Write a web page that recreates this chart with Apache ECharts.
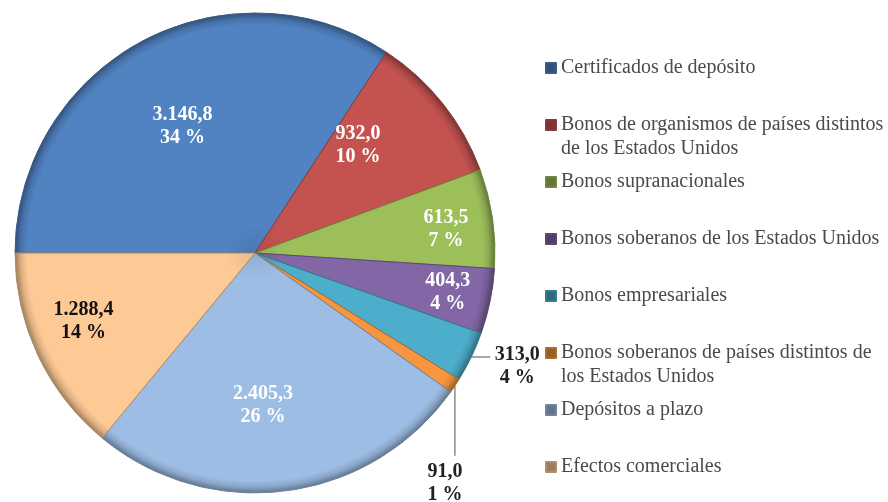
<!DOCTYPE html>
<html>
<head>
<meta charset="utf-8">
<script src="https://cdn.jsdelivr.net/npm/echarts@6/dist/echarts.min.js"></script>
<style>
html, body { margin: 0; padding: 0; background: #fff; }
#chart { width: 888px; height: 502px; }
</style>
</head>
<body>
<div id="chart"></div>
<script>
var categories = [
    'Certificados de depósito',
    'Bonos de organismos de países distintos\nde los Estados Unidos',
    'Bonos supranacionales',
    'Bonos soberanos de los Estados Unidos',
    'Bonos empresariales',
    'Bonos soberanos de países distintos de\nlos Estados Unidos',
    'Depósitos a plazo',
    'Efectos comerciales'
];
var values = [3146.8, 932.0, 613.5, 404.3, 313.0, 91.0, 2405.3, 1288.4];
var pctLabels = [34, 10, 7, 4, 4, 1, 26, 14];

var colors = ['#5182c2', '#c4524f', '#9dbf5a', '#8366a6', '#4caecb', '#f7963f', '#9dbde4', '#fdc995'];
var serif = "'Liberation Serif', 'Times New Roman', serif";

// pie geometry
var cx = 255, cy = 253, R = 240;
// push inside labels outward / rotate them a bit (Excel "best fit" look)
var labelPush = [1.24, 1.24, 1.57, 1.6, 1, 1, 1.24, 1.5];
var labelTurn = [0, 9, 0, 0, 0, 0, -4.5, -3.6];
var labelDy = [7, 5, 4, 0, 0, 0, 0, 0];

function shade(hex, f) {
    var n = parseInt(hex.slice(1), 16);
    var r = (n >> 16) & 255, g = (n >> 8) & 255, b = n & 255;
    function c(v) { return Math.max(0, Math.min(255, Math.round(f < 1 ? v * f : v + (255 - v) * (f - 1)))); }
    return 'rgb(' + c(r) + ',' + c(g) + ',' + c(b) + ')';
}

function fmtNum(v) {
    var p = v.toFixed(1).split('.');
    return p[0].replace(/\B(?=(\d{3})+(?!\d))/g, '.') + ',' + p[1];
}

var pieData = [];
for (var i = 0; i < values.length; i++) {
    var col = colors[i];
    var item = {
        name: categories[i],
        value: values[i],
        itemStyle: {
            color: {
                type: 'radial', x: cx, y: cy, r: R, global: true,
                colorStops: [
                    {offset: 0, color: shade(col, 0.92)},
                    {offset: 0.12, color: col},
                    {offset: 0.95, color: col},
                    {offset: 0.975, color: shade(col, 0.88)},
                    {offset: 1, color: shade(col, 0.62)}
                ]
            },
            borderColor: shade(col, 0.7),
            borderWidth: 1
        }
    };
    if (i == 7) {
        item.label = {color: '#111'};
    }
    if (i == 4 || i == 5) {
        item.label = {position: 'outside', color: '#222'};
        item.labelLine = {show: true, length: 10, length2: 10, lineStyle: {color: '#8c8c8c', width: 1.5}};
    }
    pieData.push(item);
}

var legends = [];
var slot = 57;
for (var j = 0; j < categories.length; j++) {
    var twoLines = categories[j].indexOf('\n') >= 0;
    var mid = 68 + slot * j;
    legends.push({
        data: [categories[j]],
        orient: 'vertical',
        left: 545,
        top: twoLines ? mid - 36 : mid - 12,
        padding: 0,
        itemWidth: 10,
        itemHeight: 10,
        icon: 'rect',
        selectedMode: false,
        // blank first line keeps the marker level with the first text line
        formatter: twoLines ? function (name) { return '\n' + name; } : '{name}',
        textStyle: {
            fontFamily: serif,
            fontSize: 20,
            color: '#4a4a4a',
            lineHeight: 24
        }
    });
}

var myChart = echarts.init(document.getElementById('chart'));

var option = {
    animation: false,
    legend: legends,
    series: [
        {
            type: 'pie',
            center: [cx, cy],
            radius: [0, R],
            startAngle: 180,
            clockwise: true,
            avoidLabelOverlap: false,
            data: pieData,
            label: {
                position: 'inside',
                fontFamily: serif,
                fontSize: 20,
                fontWeight: 'bold',
                lineHeight: 23,
                color: '#fff',
                formatter: function (p) {
                    return fmtNum(p.value) + '\n' + pctLabels[p.dataIndex] + ' %';
                }
            },
            labelLine: {show: false},
            emphasis: {disabled: true},
            labelLayout: function (p) {
                var k = p.dataIndex;
                var pts = p.labelLinePoints;
                if (k == 4 && pts) {
                    var a = pts[0];
                    return {
                        x: a[0] + 46, y: a[1] + 9,
                        align: 'center', verticalAlign: 'middle',
                        labelLinePoints: [a, a, [a[0] + 19, a[1]]]
                    };
                }
                if (k == 5 && pts) {
                    var b = pts[0];
                    return {
                        x: b[0] - 10, y: b[1] + 75,
                        align: 'center', verticalAlign: 'top',
                        labelLinePoints: [b, [b[0], b[1] + 70], [b[0], b[1] + 70]]
                    };
                }
                var lr = p.labelRect;
                var lx = lr.x + lr.width / 2 - cx;
                var ly = lr.y + lr.height / 2 - cy;
                var ang = Math.atan2(-ly, lx) + labelTurn[k] * Math.PI / 180;
                var rr = Math.sqrt(lx * lx + ly * ly) * labelPush[k];
                return {
                    x: cx + rr * Math.cos(ang),
                    y: cy - rr * Math.sin(ang) + labelDy[k],
                    align: 'center',
                    verticalAlign: 'middle'
                };
            }
        }
    ]
};

myChart.setOption(option);
</script>
</body>
</html>
